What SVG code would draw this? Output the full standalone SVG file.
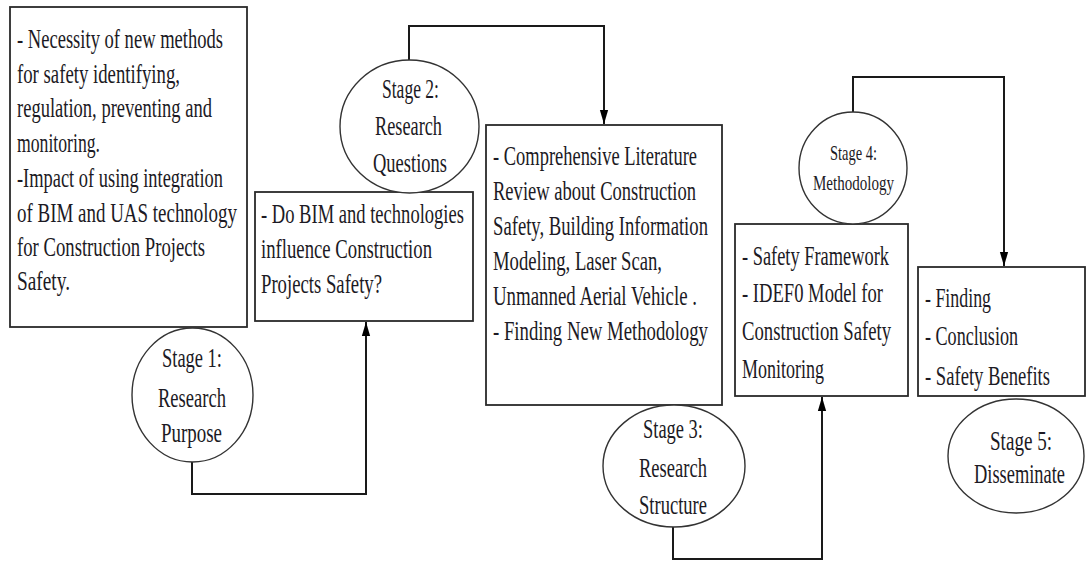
<svg xmlns="http://www.w3.org/2000/svg" width="1086" height="563" viewBox="0 0 1086 563">
<style>
.box{fill:#fff;stroke:#2a2a2a;stroke-width:1.8}
.oval{fill:#fff;stroke:#333;stroke-width:1.4}
.t{font-family:"Liberation Serif","Times New Roman",serif;font-size:27px;fill:#1c1a24}
.s{font-family:"Liberation Serif","Times New Roman",serif;font-size:22px;fill:#1c1a24}
.c{fill:none;stroke:#1a1a1a;stroke-width:2}
</style>
<defs>
<marker id="arr" markerUnits="userSpaceOnUse" markerWidth="14" markerHeight="24" refX="22" refY="6.5" viewBox="0 0 22 13" orient="auto">
<path d="M0,0 L22,6.5 L0,13 Z" fill="#000"/>
</marker>
</defs>
<rect width="1086" height="563" fill="#fff"/>
<g id="connectors">
<path class="c" d="M192,462 V494 H366 V322" marker-end="url(#arr)"/>
<path class="c" d="M409,60 V26 H604 V124" marker-end="url(#arr)"/>
<path class="c" d="M673,527 V559 H822 V397" marker-end="url(#arr)"/>
<path class="c" d="M853,112 V77 H1004 V266" marker-end="url(#arr)"/>
</g>
<g id="box1">
<rect class="box" x="10" y="7" width="237" height="320"/>
<g transform="scale(0.7,1)">
<text class="t" x="24.29" y="48" textLength="294.3" lengthAdjust="spacingAndGlyphs">- Necessity of new methods</text>
<text class="t" x="24.29" y="83" textLength="232.9" lengthAdjust="spacingAndGlyphs">for safety identifying,</text>
<text class="t" x="24.29" y="117" textLength="278.6" lengthAdjust="spacingAndGlyphs">regulation, preventing and</text>
<text class="t" x="24.29" y="152" textLength="118.6" lengthAdjust="spacingAndGlyphs">monitoring.</text>
<text class="t" x="24.29" y="187" textLength="294.3" lengthAdjust="spacingAndGlyphs">-Impact of using integration</text>
<text class="t" x="24.29" y="222" textLength="314.3" lengthAdjust="spacingAndGlyphs">of BIM and UAS technology</text>
<text class="t" x="24.29" y="256" textLength="268.6" lengthAdjust="spacingAndGlyphs">for Construction Projects</text>
<text class="t" x="24.29" y="290" textLength="75.7" lengthAdjust="spacingAndGlyphs">Safety.</text>
</g>
</g>
<g id="box2">
<rect class="box" x="255" y="192" width="218" height="129"/>
<g transform="scale(0.7,1)">
<text class="t" x="372.86" y="223" textLength="290" lengthAdjust="spacingAndGlyphs">- Do BIM and technologies</text>
<text class="t" x="372.86" y="258" textLength="244.3" lengthAdjust="spacingAndGlyphs">influence Construction</text>
<text class="t" x="372.86" y="293" textLength="172.9" lengthAdjust="spacingAndGlyphs">Projects Safety?</text>
</g>
</g>
<g id="box3">
<rect class="box" x="486" y="125" width="236" height="280"/>
<g transform="scale(0.7,1)">
<text class="t" x="704.29" y="165" textLength="291.4" lengthAdjust="spacingAndGlyphs">- Comprehensive Literature</text>
<text class="t" x="704.29" y="200" textLength="290" lengthAdjust="spacingAndGlyphs">Review about Construction</text>
<text class="t" x="704.29" y="235" textLength="307.1" lengthAdjust="spacingAndGlyphs">Safety, Building Information</text>
<text class="t" x="704.29" y="270" textLength="241.4" lengthAdjust="spacingAndGlyphs">Modeling, Laser Scan,</text>
<text class="t" x="704.29" y="305" textLength="291.4" lengthAdjust="spacingAndGlyphs">Unmanned Aerial Vehicle .</text>
<text class="t" x="704.29" y="340" textLength="307.1" lengthAdjust="spacingAndGlyphs">- Finding New Methodology</text>
</g>
</g>
<g id="box4">
<rect class="box" x="735" y="224" width="173" height="172"/>
<g transform="scale(0.7,1)">
<text class="t" x="1060" y="265" textLength="210" lengthAdjust="spacingAndGlyphs">- Safety Framework</text>
<text class="t" x="1060" y="302" textLength="201.4" lengthAdjust="spacingAndGlyphs">- IDEF0 Model for</text>
<text class="t" x="1060" y="340" textLength="212.9" lengthAdjust="spacingAndGlyphs">Construction Safety</text>
<text class="t" x="1060" y="378" textLength="117.1" lengthAdjust="spacingAndGlyphs">Monitoring</text>
</g>
</g>
<g id="box5">
<rect class="box" x="918" y="267" width="167" height="129"/>
<g transform="scale(0.7,1)">
<text class="t" x="1321.43" y="307" textLength="94.3" lengthAdjust="spacingAndGlyphs">- Finding</text>
<text class="t" x="1321.43" y="345" textLength="132.9" lengthAdjust="spacingAndGlyphs">- Conclusion</text>
<text class="t" x="1321.43" y="385" textLength="178.6" lengthAdjust="spacingAndGlyphs">- Safety Benefits</text>
</g>
</g>
<g id="stage1">
<ellipse class="oval" cx="192.5" cy="395" rx="60.5" ry="67"/>
<g transform="scale(0.7,1)">
<text class="t" x="231.43" y="367" textLength="85.7" lengthAdjust="spacingAndGlyphs">Stage 1:</text>
<text class="t" x="225.71" y="407" textLength="97.1" lengthAdjust="spacingAndGlyphs">Research</text>
<text class="t" x="230" y="442" textLength="87.1" lengthAdjust="spacingAndGlyphs">Purpose</text>
</g>
</g>
<g id="stage2">
<ellipse class="oval" cx="409.5" cy="126.5" rx="69.5" ry="66.5"/>
<g transform="scale(0.7,1)">
<text class="t" x="545.71" y="98" textLength="81.4" lengthAdjust="spacingAndGlyphs">Stage 2:</text>
<text class="t" x="535.71" y="135" textLength="95.7" lengthAdjust="spacingAndGlyphs">Research</text>
<text class="t" x="532.86" y="172" textLength="105.7" lengthAdjust="spacingAndGlyphs">Questions</text>
</g>
</g>
<g id="stage3">
<ellipse class="oval" cx="674" cy="466" rx="71" ry="61"/>
<g transform="scale(0.7,1)">
<text class="t" x="918.57" y="438" textLength="85.7" lengthAdjust="spacingAndGlyphs">Stage 3:</text>
<text class="t" x="912.86" y="477" textLength="97.1" lengthAdjust="spacingAndGlyphs">Research</text>
<text class="t" x="912.86" y="514" textLength="97.1" lengthAdjust="spacingAndGlyphs">Structure</text>
</g>
</g>
<g id="stage4">
<ellipse class="oval" cx="853" cy="168" rx="54" ry="56"/>
<g transform="scale(0.7,1)">
<text class="s" x="1185.71" y="160" textLength="67.1" lengthAdjust="spacingAndGlyphs">Stage 4:</text>
<text class="s" x="1161.43" y="190" textLength="115.7" lengthAdjust="spacingAndGlyphs">Methodology</text>
</g>
</g>
<g id="stage5">
<ellipse class="oval" cx="1016" cy="456" rx="68" ry="57"/>
<g transform="scale(0.7,1)">
<text class="t" x="1414.29" y="450" textLength="88.6" lengthAdjust="spacingAndGlyphs">Stage 5:</text>
<text class="t" x="1391.43" y="483" textLength="130" lengthAdjust="spacingAndGlyphs">Disseminate</text>
</g>
</g>
</svg>
